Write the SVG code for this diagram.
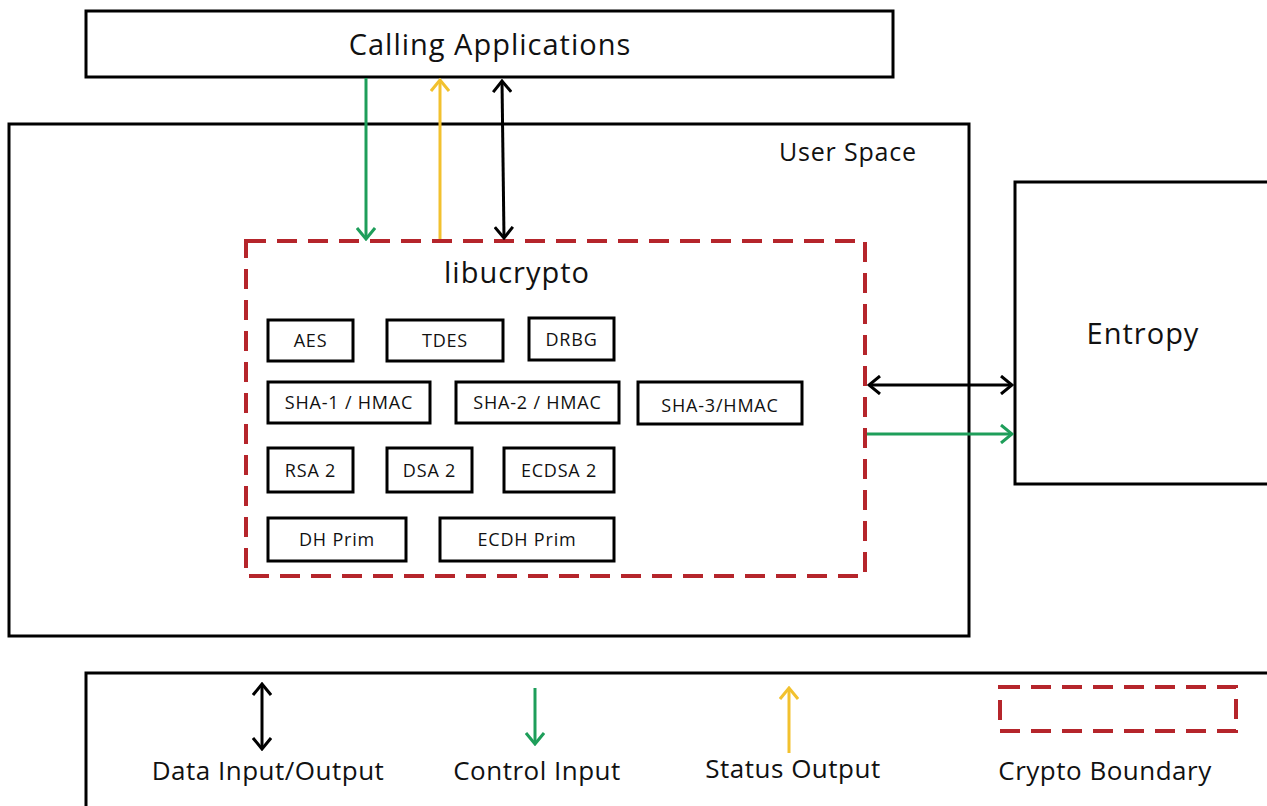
<svg xmlns="http://www.w3.org/2000/svg" width="1267" height="806" viewBox="0 0 1267 806">
<defs>
<style>
.box{fill:#fff;stroke:#000;stroke-width:3}
.sbox{fill:#fff;stroke:#000;stroke-width:3}
.bnd{fill:none;stroke:#B5252B;stroke-width:4;stroke-dasharray:20 11}
text{font-family:"Open Sans","Noto Sans","Liberation Sans",sans-serif;fill:#111}
.big{font-size:29px;letter-spacing:1px}
.sm{font-size:18px;letter-spacing:0.8px;text-anchor:middle}
.leg{font-size:26px;letter-spacing:0.5px;text-anchor:middle}
.k{stroke:#000;stroke-width:3;fill:none}
.g{stroke:#1E9E5A;stroke-width:3;fill:none}
.y{stroke:#F2C12E;stroke-width:3;fill:none}
</style>
<marker id="mk" viewBox="0 0 14 20" refX="12" refY="10" markerWidth="14" markerHeight="20" markerUnits="userSpaceOnUse" orient="auto-start-reverse"><path d="M1,1 L12,10 L1,19" fill="none" stroke="#000" stroke-width="3"/></marker>
<marker id="mg" viewBox="0 0 14 20" refX="12" refY="10" markerWidth="14" markerHeight="20" markerUnits="userSpaceOnUse" orient="auto-start-reverse"><path d="M1,1 L12,10 L1,19" fill="none" stroke="#1E9E5A" stroke-width="3"/></marker>
<marker id="my" viewBox="0 0 14 20" refX="12" refY="10" markerWidth="14" markerHeight="20" markerUnits="userSpaceOnUse" orient="auto-start-reverse"><path d="M1,1 L12,10 L1,19" fill="none" stroke="#F2C12E" stroke-width="3"/></marker>
</defs>
<rect width="1267" height="806" fill="#fff"/>

<g id="user-space"><rect class="box" x="9" y="124" width="960" height="512"/><text x="779" y="161" style="font-size:25px;letter-spacing:0.8px">User Space</text></g>
<g id="calling-applications"><rect class="box" x="86" y="11" width="807" height="66"/><text class="big" x="490" y="55" text-anchor="middle">Calling Applications</text></g>
<g id="entropy"><rect class="box" x="1015" y="182" width="260" height="302"/><text class="big" x="1143" y="344" text-anchor="middle">Entropy</text></g>

<g id="libucrypto"><rect class="bnd" x="246" y="241" width="619" height="335"/><text class="big" x="517" y="283" text-anchor="middle">libucrypto</text></g>

<g id="aes"><rect class="sbox" x="268" y="320" width="85" height="41"/><text class="sm" x="310.5" y="347">AES</text></g>
<g id="tdes"><rect class="sbox" x="387" y="320" width="116" height="41"/><text class="sm" x="445" y="347">TDES</text></g>
<g id="drbg"><rect class="sbox" x="529" y="318" width="85" height="42"/><text class="sm" x="571.5" y="346">DRBG</text></g>
<g id="sha1"><rect class="sbox" x="268" y="382" width="162" height="41"/><text class="sm" x="349" y="409">SHA-1 / HMAC</text></g>
<g id="sha2"><rect class="sbox" x="456" y="382" width="163" height="41"/><text class="sm" x="537.5" y="409">SHA-2 / HMAC</text></g>
<g id="sha3"><rect class="sbox" x="638" y="382" width="164" height="42"/><text class="sm" x="720" y="412">SHA-3/HMAC</text></g>
<g id="rsa2"><rect class="sbox" x="268" y="448" width="85" height="44"/><text class="sm" x="310.5" y="477">RSA 2</text></g>
<g id="dsa2"><rect class="sbox" x="387" y="448" width="85" height="44"/><text class="sm" x="429.5" y="477">DSA 2</text></g>
<g id="ecdsa2"><rect class="sbox" x="504" y="448" width="110" height="44"/><text class="sm" x="559" y="477">ECDSA 2</text></g>
<g id="dh-prim"><rect class="sbox" x="268" y="518" width="138" height="43"/><text class="sm" x="337" y="546">DH Prim</text></g>
<g id="ecdh-prim"><rect class="sbox" x="440" y="518" width="174" height="43"/><text class="sm" x="527" y="546">ECDH Prim</text></g>

<g id="connectors">
<line class="g" x1="366" y1="78" x2="366" y2="239" marker-end="url(#mg)"/>
<line class="y" x1="440" y1="239" x2="440" y2="80" marker-end="url(#my)"/>
<line class="k" x1="502" y1="81" x2="504" y2="238" marker-start="url(#mk)" marker-end="url(#mk)"/>
<line class="k" x1="869" y1="385" x2="1012" y2="385" marker-start="url(#mk)" marker-end="url(#mk)"/>
<line class="g" x1="867" y1="434" x2="1012" y2="434" marker-end="url(#mg)"/>
</g>

<g id="legend">
<rect class="box" x="86" y="673" width="1200" height="150"/>
<line class="k" x1="262" y1="684" x2="262" y2="749" marker-start="url(#mk)" marker-end="url(#mk)"/>
<text class="leg" x="268" y="780">Data Input/Output</text>
<line class="g" x1="535" y1="688" x2="535" y2="744" marker-end="url(#mg)"/>
<text class="leg" x="537" y="780">Control Input</text>
<line class="y" x1="789" y1="753" x2="789" y2="688" marker-end="url(#my)"/>
<text class="leg" x="793" y="778">Status Output</text>
<rect class="bnd" x="1000" y="687" width="236" height="44"/>
<text class="leg" x="1105" y="780">Crypto Boundary</text>
</g>
</svg>
